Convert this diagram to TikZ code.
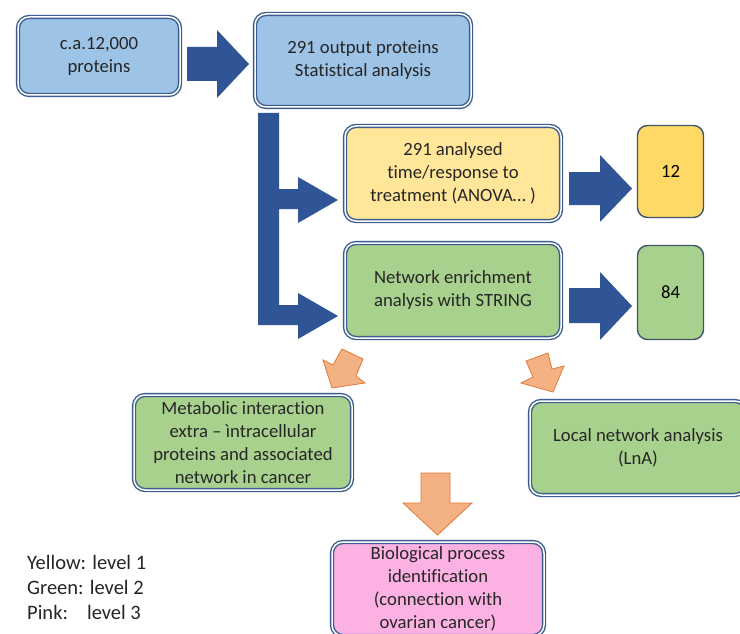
\documentclass[tikz,border=0pt]{standalone}
\usepackage{fontspec}
\setmainfont{Carlito}[Ligatures={NoCommon}]
\definecolor{bordc}{HTML}{3B5C8E}
\definecolor{arrowblue}{HTML}{2F5597}
\definecolor{txtc}{HTML}{262626}
\definecolor{lblue}{HTML}{9DC3E6}
\definecolor{lyellow}{HTML}{FFE699}
\definecolor{dyellow}{HTML}{FFD966}
\definecolor{lgreen}{HTML}{A9D18E}
\definecolor{lpink}{HTML}{FCB1E3}
\definecolor{orfill}{HTML}{F4B183}
\definecolor{ordraw}{HTML}{E07B39}
\definecolor{slate}{HTML}{44546A}
\tikzset{
  dbox/.style n args={2}{rounded corners=11pt, draw=bordc, double=white,
    line width=1.4pt, double distance=1.5pt, align=center,
    font=\fontsize{18.7}{23}\selectfont, text=txtc, inner sep=0pt,
    minimum width=#1, minimum height=#2},
  sbox/.style n args={2}{rounded corners=10pt, draw=slate, line width=1.4pt,
    align=center, font=\fontsize{18.7}{23}\selectfont, text=black, inner sep=0pt,
    minimum width=#1, minimum height=#2},
  barrow/.style={fill=arrowblue, draw=none},
  oarrow/.style={fill=orfill, draw=ordraw, line width=0.8pt, line join=miter},
  legend/.style={anchor=base west, inner sep=0pt, text=txtc,
    font=\fontsize{20.5}{24}\selectfont}
}
\begin{document}
\begin{tikzpicture}[x=1pt,y=-1pt]
\clip (0,0) rectangle (740,634);
\fill[white] (0,0) rectangle (740,634);

% boxes
\node[dbox={162pt}{78pt}, fill=lblue] (start) at (99,56) {c.a.12,000\\proteins};
\node[dbox={216pt}{93pt}, fill=lblue] (stat) at (363,60.5) {291 output proteins\\Statistical analysis};
\node[dbox={216pt}{95pt}, fill=lyellow] (anova) at (453,173.5) {291 analysed\\time/response to\\treatment (ANOVA… )};
\node[dbox={216pt}{95pt}, fill=lgreen] (string) at (453,290.5) {Network enrichment\\analysis with STRING};
\node[sbox={66pt}{92pt}, fill=dyellow] (n12) at (670.5,171.5) {12};
\node[sbox={66pt}{94pt}, fill=lgreen] (n84) at (670.5,292.5) {84};
\node[dbox={218pt}{95pt}, fill=lgreen] (meta) at (243,442.5) {Metabolic interaction\\extra – ìntracellular\\proteins and associated\\network in cancer};
\node[dbox={216pt}{94pt}, fill=lgreen] (lna) at (638,448) {Local network analysis\\(LnA)};
\node[dbox={212pt}{94pt}, fill=lpink] (bio) at (438,589) {Biological process\\identification\\(connection with\\ovarian cancer)};

% blue block arrows
\fill[barrow] (187,47) -- (217,47) -- (217,30) -- (249,64) -- (217,98) -- (217,81) -- (187,81) -- cycle;
\fill[barrow] (569,172) -- (600,172) -- (600,155) -- (632,188.5) -- (600,222) -- (600,205) -- (569,205) -- cycle;
\fill[barrow] (569,288) -- (600,288) -- (600,272) -- (632,306) -- (600,340) -- (600,323) -- (569,323) -- cycle;
\fill[barrow] (258,113) -- (279,113) -- (279,189) -- (298,189) -- (298,177) -- (338,200)
  -- (298,223) -- (298,209) -- (279,209) -- (279,305) -- (298,305) -- (298,293)
  -- (338,316) -- (298,339) -- (298,325) -- (258,325) -- cycle;

% orange block arrows
\draw[oarrow] (342,349) -- (363,359) -- (356,376) -- (365,383) -- (332,388) -- (323,360) -- (333,365) -- cycle;
\draw[oarrow] (526,361) -- (548,353) -- (552,369) -- (564,366) -- (553,392) -- (521,383) -- (533,377) -- cycle;
\draw[oarrow] (421,473) -- (450,473) -- (450,503) -- (472,503) -- (437.5,535) -- (403,503) -- (421,503) -- cycle;

% legend
\node[legend] (l1) at (27,569) {Yellow: level 1};
\node[legend] (l2) at (27,594) {Green: level 2};
\node[legend] (l3) at (27,619) {Pink:\hspace{19pt}level 3};
\end{tikzpicture}
\end{document}
